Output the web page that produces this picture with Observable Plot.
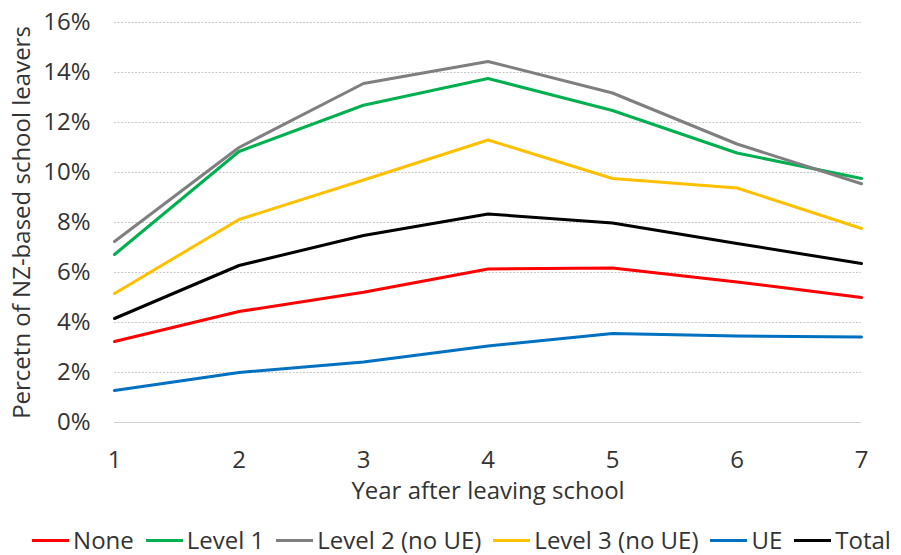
<!DOCTYPE html>
<html>
<head>
<meta charset="utf-8">
<script src="https://cdn.jsdelivr.net/npm/d3@7"></script>
<script src="https://cdn.jsdelivr.net/npm/@observablehq/plot@0.6"></script>
<style>
  body { margin: 0; background: #fff; font-family: "Open Sans", Lato, sans-serif; }
  #chart svg { display: block; }
  #legend { display: flex; justify-content: center; align-items: center; height: 26px; margin-top: 12px; font-size: 24px; line-height: 1; color: #333; gap: 12px; margin-left: 22px; white-space: nowrap; }
  #legend .item { display: flex; align-items: center; gap: 4px; line-height: 1; }
  #legend .swatch { width: 37px; height: 3px; display: inline-block; }
</style>
</head>
<body>
<div id="chart"></div>
<div id="legend"></div>
<script>
// Years after leaving school
const years = [1, 2, 3, 4, 5, 6, 7];

// Share of NZ-based school leavers (%) by highest qualification
const none    = [3.24, 4.44, 5.21, 6.14, 6.18, 5.62, 5.0];
const level1  = [6.72, 10.84, 12.69, 13.76, 12.48, 10.78, 9.76];
const level2  = [7.24, 11.0, 13.56, 14.44, 13.18, 11.14, 9.55];
const level3  = [5.16, 8.12, 9.7, 11.3, 9.76, 9.38, 7.76];
const ue      = [1.28, 2.0, 2.42, 3.06, 3.56, 3.46, 3.42];
const total   = [4.16, 6.28, 7.48, 8.34, 7.98, 7.16, 6.36];

const seriesNames = ["None", "Level 1", "Level 2 (no UE)", "Level 3 (no UE)", "UE", "Total"];
const seriesValues = [none, level1, level2, level3, ue, total];
const seriesColors = ["#ff0000", "#00b050", "#7f7f7f", "#ffc000", "#0070c0", "#000000"];

const yTicks = [0, 2, 4, 6, 8, 10, 12, 14, 16];

const rows = seriesNames.flatMap((name, i) =>
  years.map((year, j) => ({series: name, year, value: seriesValues[i][j]}))
);

const textColor = "#333";
const fs = 24;

const chart = Plot.plot({
  width: 901,
  height: 515,
  marginTop: 22,
  marginBottom: 93,
  marginLeft: 114,
  marginRight: 40,
  style: {fontFamily: "'Open Sans', Lato, sans-serif", fontSize: fs + "px", color: textColor, background: "#fff"},
  x: {domain: [1, 7]},
  y: {domain: [0, 16]},
  color: {domain: seriesNames, range: seriesColors},
  marks: [
    Plot.ruleY(yTicks.filter(d => d > 0), {stroke: "#c8c8c8", strokeWidth: 1, strokeDasharray: "2,1.5"}),
    Plot.ruleY([0], {stroke: "#d0d0d0", strokeWidth: 1}),
    Plot.axisY({ticks: yTicks, tickSize: 0, tickPadding: 24, tickFormat: d => d + "%", label: null, fontSize: fs}),
    Plot.axisX({ticks: years, tickSize: 0, tickPadding: 28, tickFormat: d => String(d), label: null, fontSize: fs}),
    Plot.text(["Year after leaving school"], {frameAnchor: "bottom", dy: 76, fontSize: fs, fill: textColor}),
    Plot.text(["Percetn of NZ-based school leavers"], {frameAnchor: "left", textAnchor: "middle", rotate: -90, dx: -92, fontSize: fs, fill: textColor}),
    Plot.line(rows, {x: "year", y: "value", z: "series", stroke: "series", strokeWidth: 3, strokeLinejoin: "round"})
  ]
});
document.getElementById("chart").append(chart);

// Legend below the plot
const legend = document.getElementById("legend");
seriesNames.forEach((name, i) => {
  const item = document.createElement("span");
  item.className = "item";
  const sw = document.createElement("span");
  sw.className = "swatch";
  sw.style.background = seriesColors[i];
  const label = document.createElement("span");
  label.textContent = name;
  item.append(sw, label);
  legend.append(item);
});
</script>
</body>
</html>
